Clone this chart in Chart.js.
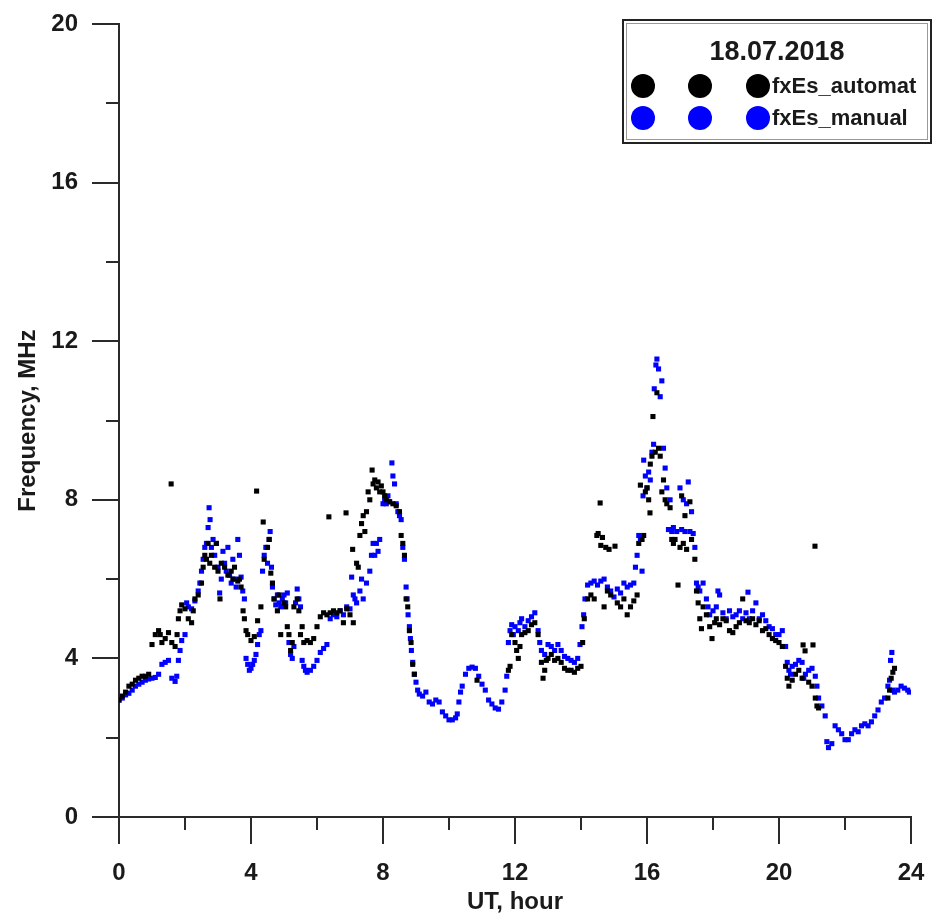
<!DOCTYPE html>
<html>
<head>
<meta charset="utf-8">
<title>fxEs 18.07.2018</title>
<script src="https://cdn.jsdelivr.net/npm/chart.js@4.4.0/dist/chart.umd.min.js"></script>
<style>
  html, body { margin: 0; padding: 0; background: #fff; }
  #wrap { width: 933px; height: 917px; }
</style>
</head>
<body>
<div id="wrap"><canvas id="fxChart" width="933" height="917"></canvas></div>
<script>
// UT hour, frequency MHz
var automatPoints = [
  [0,2.95],[0.1,3.05],[0.2,3.15],[0.3,3.3],[0.4,3.35],[0.5,3.45],[0.6,3.5],[0.7,3.55],[0.8,3.55],[0.9,3.6],
  [1.0,4.35],[1.1,4.6],[1.2,4.7],[1.25,4.6],[1.3,4.4],[1.4,4.5],[1.5,4.65],[1.58,8.4],[1.6,4.4],[1.7,4.3],
  [1.76,4.6],[1.8,5.0],[1.85,5.2],[1.9,5.35],[2.0,5.25],[2.1,5.0],[2.2,4.9],[2.25,5.2],[2.3,5.5],[2.4,5.6],
  [2.5,5.9],[2.55,6.3],[2.6,6.6],[2.65,6.5],[2.7,6.9],[2.75,6.4],[2.8,6.6],[2.9,6.3],[2.95,6.9],[3.0,6.2],
  [3.06,5.5],[3.1,6.4],[3.2,6.3],[3.3,6.1],[3.4,6.2],[3.45,6.0],[3.5,6.3],[3.6,5.95],[3.65,6.0],[3.7,5.8],
  [3.76,5.2],[3.8,5.0],[3.85,4.7],[3.9,4.6],[4.0,4.45],[4.1,4.55],[4.17,8.22],[4.2,4.95],[4.3,5.3],[4.37,7.44],
  [4.4,6.5],[4.5,6.8],[4.55,7.0],[4.6,6.15],[4.65,5.9],[4.7,5.5],[4.8,5.2],[4.85,5.6],[4.9,4.6],[5.0,5.4],
  [5.05,5.3],[5.1,4.8],[5.15,4.6],[5.2,4.2],[5.25,4.4],[5.3,5.3],[5.4,5.5],[5.45,5.2],[5.5,4.6],[5.55,4.8],
  [5.6,4.4],[5.7,4.45],[5.8,4.4],[5.9,4.5],[6.0,4.8],[6.1,5.05],[6.2,5.15],[6.3,5.1],[6.36,7.57],[6.4,5.15],
  [6.5,5.2],[6.6,5.15],[6.7,5.2],[6.8,4.9],[6.88,7.67],[6.9,5.25],[7.0,5.1],[7.08,6.75],[7.1,4.9],[7.2,6.4],
  [7.25,6.3],[7.3,7.1],[7.35,7.4],[7.4,7.6],[7.45,7.2],[7.5,7.7],[7.55,8.2],[7.6,8.0],[7.67,8.75],[7.7,8.4],
  [7.75,8.5],[7.8,8.3],[7.85,8.45],[7.9,8.2],[7.95,8.35],[8.0,8.2],[8.05,8.1],[8.1,8.0],[8.2,7.95],[8.3,7.9],
  [8.4,7.85],[8.5,7.7],[8.55,7.1],[8.6,6.9],[8.65,6.6],[8.7,5.5],[8.75,5.3],[8.8,4.7],[8.85,4.4],[8.9,3.85],
  [8.95,3.6],[10.85,3.45],[11.8,3.7],[11.85,3.8],[11.9,4.6],[12.0,4.4],[12.05,4.2],[12.1,4.0],[12.15,4.3],[12.2,4.6],
  [12.3,4.65],[12.4,4.7],[12.5,4.85],[12.6,4.9],[12.7,4.6],[12.8,3.9],[12.85,3.5],[12.9,3.7],[12.95,3.95],[13.0,4.0],
  [13.1,4.1],[13.2,3.95],[13.3,4.0],[13.4,3.9],[13.5,3.75],[13.6,3.7],[13.7,3.7],[13.8,3.65],[13.9,3.75],[14.0,3.8],
  [14.05,4.4],[14.1,5.0],[14.2,5.5],[14.3,5.6],[14.4,5.5],[14.48,7.1],[14.52,7.15],[14.58,7.92],[14.6,6.85],[14.65,7.05],
  [14.7,5.3],[14.75,6.8],[14.8,5.7],[14.85,6.75],[14.9,5.6],[15.03,6.83],[15.1,5.4],[15.2,5.3],[15.3,5.5],[15.4,5.1],
  [15.5,5.3],[15.6,5.45],[15.7,5.6],[15.75,6.9],[15.8,8.37],[15.85,7.0],[15.9,7.1],[15.95,8.2],[16.0,8.3],[16.05,8.0],
  [16.09,7.67],[16.1,8.9],[16.15,9.1],[16.18,10.1],[16.25,9.2],[16.3,10.7],[16.35,9.3],[16.4,9.1],[16.45,8.2],[16.5,8.5],
  [16.55,8.0],[16.6,7.9],[16.7,7.8],[16.75,7.0],[16.8,6.9],[16.85,7.0],[16.94,5.85],[17.0,6.8],[17.05,8.1],[17.1,6.9],
  [17.15,7.6],[17.2,6.75],[17.3,7.95],[17.35,7.0],[17.45,6.5],[17.5,5.7],[17.55,5.4],[17.6,5.0],[17.65,4.75],[17.7,5.3],
  [17.8,5.1],[17.9,4.8],[17.97,4.5],[18.05,4.9],[18.1,5.0],[18.2,4.85],[18.3,5.0],[18.4,4.95],[18.5,4.7],[18.6,4.65],
  [18.7,4.8],[18.8,4.9],[18.9,5.5],[19.0,4.95],[19.1,4.9],[19.2,5.0],[19.3,4.85],[19.4,4.95],[19.5,4.7],[19.6,4.75],
  [19.7,4.6],[19.8,4.5],[19.9,4.45],[20.0,4.4],[20.1,4.3],[20.2,3.8],[20.25,3.5],[20.3,3.3],[20.4,3.45],[20.5,3.6],
  [20.6,3.7],[20.7,3.5],[20.73,4.34],[20.79,4.19],[20.9,3.4],[21.0,3.3],[21.03,4.34],[21.09,6.83],[21.1,3.0],[21.15,2.8],
  [21.2,2.75],[23.3,3.0],[23.35,3.2],[23.4,3.5],[23.45,3.65],[23.5,3.75]
];

var manualPoints = [
  [0,2.95],[0.1,3.0],[0.2,3.08],[0.3,3.12],[0.4,3.2],[0.5,3.3],[0.6,3.35],[0.7,3.4],[0.8,3.45],[0.9,3.48],
  [1.0,3.5],[1.1,3.52],[1.2,3.6],[1.3,3.85],[1.4,3.9],[1.5,3.95],[1.6,3.5],[1.7,3.42],[1.75,3.55],[1.8,3.95],
  [1.85,4.2],[1.9,4.45],[2.0,4.6],[2.05,5.4],[2.1,5.3],[2.2,5.25],[2.3,5.45],[2.4,5.7],[2.45,5.9],[2.5,6.2],
  [2.55,6.5],[2.6,6.8],[2.65,6.9],[2.7,7.3],[2.73,7.8],[2.76,7.5],[2.8,6.8],[2.85,7.0],[2.9,6.6],[2.95,6.9],
  [3.0,6.3],[3.05,5.65],[3.1,6.0],[3.15,6.7],[3.2,6.4],[3.25,6.2],[3.3,6.8],[3.35,6.1],[3.4,5.9],[3.45,6.5],
  [3.5,6.0],[3.55,5.8],[3.6,7.0],[3.65,6.6],[3.7,6.05],[3.75,5.7],[3.8,5.5],[3.85,4.0],[3.9,3.85],[3.95,3.7],
  [4.0,3.75],[4.05,3.85],[4.1,3.95],[4.15,4.1],[4.2,4.35],[4.25,4.6],[4.3,4.7],[4.35,6.2],[4.4,6.6],[4.45,6.8],
  [4.5,6.4],[4.55,7.0],[4.58,7.2],[4.62,6.3],[4.65,5.8],[4.7,5.5],[4.75,5.35],[4.8,5.6],[4.85,5.4],[4.9,5.3],
  [4.95,5.5],[5.0,5.6],[5.05,5.4],[5.1,5.65],[5.15,4.4],[5.2,4.1],[5.25,4.0],[5.3,4.3],[5.35,5.4],[5.4,5.75],
  [5.45,5.5],[5.5,5.3],[5.55,3.95],[5.6,3.8],[5.65,3.7],[5.7,3.65],[5.8,3.7],[5.9,3.8],[6.0,3.95],[6.1,4.15],
  [6.2,4.25],[6.3,4.35],[6.4,5.0],[6.5,5.1],[6.6,5.05],[6.7,5.2],[6.8,5.1],[6.9,5.3],[7.0,5.25],[7.05,6.05],
  [7.1,5.6],[7.15,5.5],[7.2,5.4],[7.3,5.7],[7.35,6.0],[7.4,5.5],[7.5,5.9],[7.6,6.2],[7.65,6.6],[7.7,6.9],
  [7.75,6.6],[7.8,6.9],[7.85,6.7],[7.9,7.0],[8.0,7.9],[8.05,8.0],[8.1,7.9],[8.15,8.1],[8.2,7.95],[8.27,8.93],
  [8.3,8.6],[8.35,8.4],[8.4,7.9],[8.45,7.7],[8.5,7.6],[8.55,7.5],[8.6,6.8],[8.65,6.5],[8.7,5.8],[8.73,5.5],
  [8.76,5.1],[8.8,4.8],[8.83,4.5],[8.86,4.2],[8.9,3.9],[8.95,3.6],[9.0,3.4],[9.05,3.2],[9.1,3.1],[9.2,3.05],
  [9.3,3.15],[9.4,2.9],[9.5,2.85],[9.6,2.95],[9.7,2.9],[9.8,2.65],[9.9,2.55],[10.0,2.45],[10.1,2.45],[10.2,2.5],
  [10.25,2.6],[10.3,2.9],[10.35,3.15],[10.4,3.3],[10.5,3.6],[10.6,3.75],[10.7,3.78],[10.8,3.75],[10.9,3.55],[11.0,3.35],
  [11.1,3.2],[11.2,2.95],[11.3,2.85],[11.4,2.75],[11.5,2.72],[11.6,2.9],[11.7,3.2],[11.75,3.55],[11.8,4.4],[11.85,4.7],
  [11.9,4.85],[11.95,4.6],[12.0,4.8],[12.1,4.7],[12.15,4.9],[12.2,5.0],[12.3,4.8],[12.4,4.95],[12.5,5.05],[12.6,5.15],
  [12.7,4.7],[12.75,4.4],[12.8,4.2],[12.9,4.1],[13.0,4.35],[13.1,4.3],[13.2,4.2],[13.3,4.35],[13.4,4.2],[13.5,4.05],
  [13.6,4.0],[13.7,3.95],[13.8,3.9],[13.9,4.0],[13.97,4.35],[14.03,4.8],[14.08,5.1],[14.12,5.5],[14.2,5.85],[14.3,5.9],
  [14.4,5.95],[14.5,5.85],[14.6,5.95],[14.7,6.0],[14.8,5.8],[14.9,5.7],[15.0,5.55],[15.1,5.75],[15.2,5.65],[15.3,5.9],
  [15.4,5.8],[15.5,5.85],[15.6,5.9],[15.65,6.3],[15.7,6.6],[15.75,7.1],[15.8,7.0],[15.85,6.2],[15.88,8.1],[15.9,9.0],
  [15.95,8.6],[16.0,8.3],[16.05,8.7],[16.1,8.5],[16.15,9.2],[16.2,9.4],[16.22,10.8],[16.27,11.4],[16.3,11.55],[16.35,11.3],
  [16.4,10.6],[16.45,11.0],[16.5,9.3],[16.55,8.8],[16.6,8.3],[16.65,7.25],[16.7,8.0],[16.75,7.2],[16.8,7.3],[16.9,7.2],
  [17.0,8.3],[17.05,7.25],[17.1,8.0],[17.15,7.2],[17.2,7.9],[17.25,8.45],[17.3,7.2],[17.35,7.7],[17.4,7.15],[17.45,6.8],
  [17.5,5.9],[17.55,5.8],[17.6,5.7],[17.7,5.9],[17.8,5.5],[17.85,5.3],[17.9,5.1],[18.0,5.2],[18.1,5.3],[18.15,5.7],
  [18.2,5.6],[18.3,5.15],[18.4,5.0],[18.5,5.2],[18.6,5.05],[18.7,5.1],[18.8,5.2],[18.9,5.0],[19.0,5.15],[19.06,5.67],
  [19.1,5.0],[19.2,5.2],[19.3,5.4],[19.4,5.0],[19.5,5.1],[19.6,4.95],[19.7,4.8],[19.8,4.75],[19.9,4.6],[20.0,4.6],
  [20.1,4.7],[20.2,4.3],[20.25,3.9],[20.3,3.7],[20.35,3.6],[20.4,3.8],[20.5,3.85],[20.6,3.95],[20.7,3.9],[20.75,3.5],
  [20.8,3.6],[20.9,3.7],[21.0,3.75],[21.1,3.55],[21.15,3.3],[21.2,3.0],[21.3,2.8],[21.4,2.55],[21.45,1.9],[21.5,1.75],
  [21.6,1.85],[21.7,2.3],[21.8,2.2],[21.9,2.1],[22.0,1.95],[22.1,1.95],[22.2,2.1],[22.3,2.2],[22.4,2.15],[22.5,2.3],
  [22.6,2.35],[22.7,2.3],[22.8,2.4],[22.9,2.55],[23.0,2.7],[23.1,2.9],[23.2,3.0],[23.3,3.3],[23.35,3.45],[23.38,3.95],
  [23.42,4.15],[23.45,3.2],[23.5,3.15],[23.6,3.2],[23.7,3.3],[23.8,3.25],[23.9,3.2],[23.95,3.15]
];

var seriesNames = ['fxEs_automat', 'fxEs_manual'];
var seriesColors = ['#000000', '#0000ff'];
var dateLabel = '18.07.2018';
var xMinor = [2, 6, 10, 14, 18, 22];
var yMinor = [2, 6, 10, 14, 18];

var fontFamily = '"Liberation Sans", Arial, sans-serif';
var axisColor = '#2a2a2a';

function toXY(list){
  return list.map(function(p){ return { x: p[0], y: p[1] }; });
}

// minor ticks drawn through the scales (Chart.js has only one tick length)
var minorTicks = {
  id: 'minorTicks',
  afterDraw: function(chart){
    var ctx = chart.ctx, x = chart.scales.x, y = chart.scales.y, area = chart.chartArea;
    ctx.save();
    ctx.strokeStyle = axisColor;
    ctx.lineWidth = 2;
    ctx.beginPath();
    xMinor.forEach(function(v){
      var px = Math.round(x.getPixelForValue(v));
      ctx.moveTo(px, area.bottom);
      ctx.lineTo(px, area.bottom + 13);
    });
    yMinor.forEach(function(v){
      var py = Math.round(y.getPixelForValue(v));
      ctx.moveTo(area.left - 13, py);
      ctx.lineTo(area.left, py);
    });
    ctx.stroke();
    ctx.restore();
  }
};

// boxed legend with date title, three markers per row
var legendBox = {
  id: 'legendBox',
  afterDraw: function(chart){
    var ctx = chart.ctx;
    var bx = 623, by = 20, bw = 308, bh = 123;
    ctx.save();
    ctx.fillStyle = '#fff';
    ctx.fillRect(bx, by, bw, bh);
    ctx.strokeStyle = '#222';
    ctx.lineWidth = 2;
    ctx.strokeRect(bx, by, bw, bh);
    ctx.strokeStyle = '#999';
    ctx.lineWidth = 1;
    ctx.strokeRect(bx + 3.5, by + 3.5, bw - 7, bh - 7);

    ctx.fillStyle = '#1a1a1a';
    ctx.font = 'bold 27px ' + fontFamily;
    ctx.textAlign = 'center';
    ctx.textBaseline = 'middle';
    ctx.fillText(dateLabel, 777, 53);

    var rows = [86, 118];
    var cols = [643, 700, 758];
    ctx.font = 'bold 22px ' + fontFamily;
    ctx.textAlign = 'left';
    seriesNames.forEach(function(name, i){
      ctx.fillStyle = seriesColors[i];
      cols.forEach(function(cx){
        ctx.beginPath();
        ctx.arc(cx, rows[i], 12, 0, Math.PI * 2);
        ctx.fill();
      });
      ctx.fillStyle = '#1a1a1a';
      ctx.fillText(name, 772, rows[i] + 1);
    });
    ctx.restore();
  }
};

var tickFont = { family: fontFamily, size: 24, weight: 'bold' };
var titleFont = { family: fontFamily, size: 24, weight: 'bold', lineHeight: 1.2 };

new Chart(document.getElementById('fxChart'), {
  type: 'scatter',
  data: {
    datasets: [
      {
        label: seriesNames[0],
        data: toXY(automatPoints),
        pointStyle: 'rect',
        pointRadius: 3.6,
        pointBorderWidth: 0,
        backgroundColor: seriesColors[0],
        borderColor: seriesColors[0]
      },
      {
        label: seriesNames[1],
        data: toXY(manualPoints),
        pointStyle: 'rect',
        pointRadius: 3.6,
        pointBorderWidth: 0,
        backgroundColor: seriesColors[1],
        borderColor: seriesColors[1]
      }
    ]
  },
  options: {
    responsive: false,
    animation: false,
    layout: { padding: { top: 24, right: 22, left: 0, bottom: 0 } },
    plugins: {
      legend: { display: false },
      tooltip: { enabled: false }
    },
    scales: {
      x: {
        type: 'linear',
        min: 0,
        max: 24,
        afterFit: function(s){ s.height = 100; s.paddingLeft = 0; s.paddingRight = 0; },
        ticks: { stepSize: 4, font: tickFont, color: '#1a1a1a', padding: 15, maxRotation: 0 },
        grid: { drawOnChartArea: false, tickLength: 27, color: axisColor, lineWidth: 2 },
        border: { display: true, color: axisColor, width: 2 },
        title: { display: true, text: 'UT, hour', font: titleFont, color: '#1a1a1a', padding: { top: 0, bottom: 0 } }
      },
      y: {
        type: 'linear',
        min: 0,
        max: 20,
        afterFit: function(s){ s.width = 119; s.paddingTop = 0; s.paddingBottom = 0; },
        ticks: { stepSize: 4, font: tickFont, color: '#1a1a1a', padding: 14 },
        grid: { drawOnChartArea: false, tickLength: 27, color: axisColor, lineWidth: 2 },
        border: { display: true, color: axisColor, width: 2 },
        title: { display: true, text: 'Frequency, MHz', font: titleFont, color: '#1a1a1a', padding: { top: 14, bottom: 0 } }
      }
    }
  },
  plugins: [minorTicks, legendBox]
});
</script>
</body>
</html>
